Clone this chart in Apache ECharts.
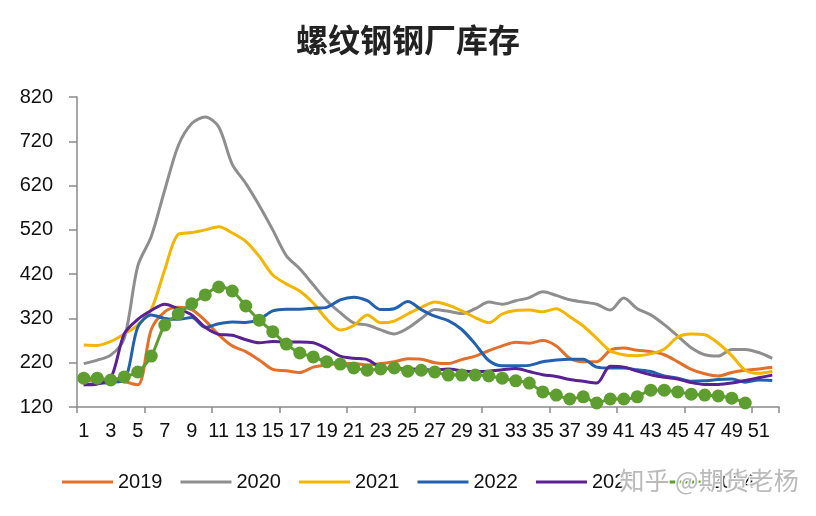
<!DOCTYPE html>
<html>
<head>
<meta charset="utf-8">
<script src="https://cdn.jsdelivr.net/npm/echarts@6/dist/echarts.min.js"></script>
<style>
html,body{margin:0;padding:0;background:#fff;}
#c{width:816px;height:516px;}
</style>
</head>
<body>
<div id="c"></div>
<script>
var weeks = [];
for (var i = 1; i <= 52; i++) weeks.push(String(i));

var s2019 = [178,181,181,177,170,295,335,345,340,315,283,258,245,226,205,202,198,210,215,218,218,215,218,222,229,228,220,218,227,235,247,258,266,264,270,258,230,222,222,248,253,248,245,238,222,205,195,190,198,203,206,210];
var s2020 = [218,226,237,275,438,505,610,710,760,775,752,668,625,575,520,462,432,396,360,333,310,305,294,285,298,320,340,336,331,342,357,352,360,367,380,372,362,357,352,339,366,342,328,306,280,254,238,235,250,250,243,230];
var s2021 = [260,259,268,285,305,340,430,510,514,520,527,513,494,460,418,398,382,355,318,294,304,328,310,314,330,345,357,350,337,322,310,330,338,339,335,342,324,303,275,247,238,236,240,251,278,285,283,264,236,203,196,200];
var s2022 = [170,173,176,180,300,328,320,318,322,300,308,312,311,318,337,341,341,343,345,362,368,360,340,342,358,340,325,315,295,262,225,213,213,214,222,226,228,228,210,208,208,204,200,190,185,178,179,182,183,176,181,180];
var s2023 = [170,172,185,285,318,338,352,342,328,300,284,282,272,265,268,267,267,265,252,235,230,227,210,207,206,205,203,206,202,200,201,204,207,200,193,189,182,178,174,212,210,201,193,187,183,175,171,171,174,180,186,192];
var s2024 = [185,185,181,188,199,235,305,330,353,373,391,382,348,316,290,262,242,233,222,217,208,203,206,208,201,203,199,192,192,192,190,185,179,174,154,147,138,143,129,138,138,143,158,158,154,149,147,145,140,129];

var yTicks = ['120','220','320','420','520','620','720','820'];
var names = ['2019','2020','2021','2022','2023','2024'];
var colors = ['#E2702B','#8E8E8E','#F2B500','#2360AE','#5A2193','#5E9E31'];
var datas = [s2019,s2020,s2021,s2022,s2023,s2024];

var series = names.map(function(n, idx){
  var isG = idx === 5;
  return {
    name: n,
    type: 'line',
    data: datas[idx],
    smooth: 0.3,
    symbol: isG ? 'circle' : 'none',
    symbolSize: 13,
    showSymbol: isG,
    showAllSymbol: true,
    lineStyle: {width: 3, color: colors[idx]},
    itemStyle: {color: colors[idx]},
    z: 2 + idx
  };
});

var legendData = names.map(function(n){ return {name: n, icon: 'rect'}; });

var chart = echarts.init(document.getElementById('c'), null, {renderer: 'canvas'});
chart.setOption({
  backgroundColor: '#ffffff',
  animation: false,
  color: colors,
  title: {
    text: '螺纹钢钢厂库存',
    left: 'center',
    top: 19,
    textStyle: {fontFamily: '"Noto Sans CJK SC", sans-serif', fontSize: 32, fontWeight: 'bold', color: '#222'}
  },
  grid: {left: 77, right: 37, top: 97, bottom: 109, containLabel: false},
  xAxis: {
    type: 'category',
    data: weeks,
    boundaryGap: true,
    axisLine: {lineStyle: {color: '#8a8a8a', width: 1.5}},
    axisTick: {show: true, interval: 4, length: 6, lineStyle: {color: '#8a8a8a', width: 1.5}},
    axisLabel: {interval: 1, margin: 14, fontSize: 20, color: '#111', fontFamily: '"Liberation Sans", Arial, sans-serif'},
    splitLine: {show: false}
  },
  yAxis: {
    type: 'value',
    min: 120,
    max: 820,
    interval: 100,
    axisLine: {show: true, lineStyle: {color: '#8a8a8a', width: 1.5}},
    axisTick: {show: true, length: 8, lineStyle: {color: '#8a8a8a', width: 1.5}},
    axisLabel: {margin: 24, fontSize: 20, color: '#111', fontFamily: '"Liberation Sans", Arial, sans-serif',
      formatter: function(v){ return yTicks.indexOf(String(v)) >= 0 ? String(v) : ''; }},
    splitLine: {show: false}
  },
  legend: {
    data: legendData,
    left: 57,
    top: 467,
    itemWidth: 51,
    itemHeight: 3,
    itemGap: 18,
    textStyle: {fontSize: 20, color: '#111', fontFamily: '"Liberation Sans", Arial, sans-serif'}
  },
  graphic: [{
    type: 'text',
    left: 618,
    top: 466,
    z: 100,
    style: {
      text: '知乎 @期货老杨',
      fontSize: 25,
      fontFamily: '"Noto Sans CJK SC", sans-serif',
      fill: 'rgba(175,175,175,0.85)',
      stroke: 'rgba(255,255,255,0.9)',
      lineWidth: 3
    }
  }],
  series: series
});
</script>
</body>
</html>
